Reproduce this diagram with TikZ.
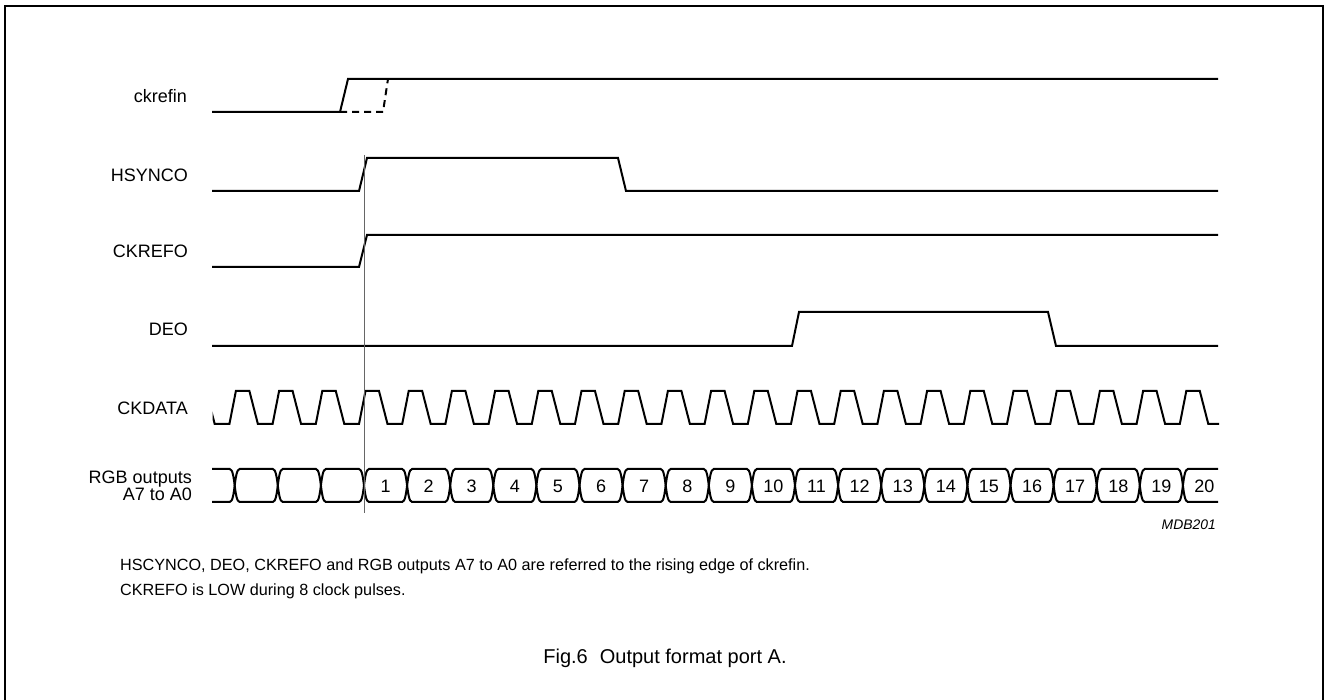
\documentclass[tikz,border=0pt]{standalone}
\usepackage{fontspec}
\setmainfont{Liberation Sans}
\begin{document}
\begin{tikzpicture}[x=1pt,y=-1pt,
  sig/.style={line width=2pt, line join=miter, line cap=butt},
  lbl/.style={anchor=east, inner sep=0pt, font=\fontsize{18}{17}\selectfont},
  num/.style={inner sep=0pt, font=\fontsize{18}{20}\selectfont},
  note/.style={anchor=west, inner sep=0pt, font=\fontsize{16.2}{18}\selectfont}]
\useasboundingbox (0,0) rectangle (1326,700);
\draw[line width=1.6pt] (5,6) rectangle (1323,703);

% labels
\node[lbl] (lckrefin) at (187,96) {ckrefin};
\node[lbl] (lhsynco) at (188,175) {HSYNCO};
\node[lbl] (lckrefo) at (188,251) {CKREFO};
\node[lbl] (ldeo) at (188,329) {DEO};
\node[lbl] (lckdata) at (188,408) {CKDATA};
\node[lbl, align=right] (lrgb) at (192,485.5) {RGB outputs\\A7 to A0};

% ckrefin
\draw[sig] (212,112) -- (340,112) -- (348,79) -- (1218,79);
\draw[sig, dash pattern=on 7pt off 5pt] (340,112) -- (383,112) -- (388,79);
% HSYNCO
\draw[sig] (212,191) -- (359,191) -- (367,158) -- (618,158) -- (626,191) -- (1218,191);
% CKREFO
\draw[sig] (212,267) -- (359,267) -- (367,235) -- (1218,235);
% DEO
\draw[sig] (212,346) -- (792,346) -- (799,312) -- (1048,312) -- (1056,346) -- (1218,346);
% CKDATA
\begin{scope}
\clip (212.5,370) rectangle (1219,440);
\draw[sig] (150,424)
  \foreach \k [evaluate=\k as \c using 364+43.2*\k] in {-5,...,20} {
    -- (\c-5,424) -- (\c+1.5,391) -- (\c+15,391) -- (\c+23.5,424) };
\end{scope}
% RGB outputs
\draw[sig] (212,469)
  \foreach \k [evaluate=\k as \c using 364+43.1*\k] in {-3,...,19} {
    -- (\c-5,469) .. controls (\c-2,469) and (\c-1,478) .. (\c,485.5)
       .. controls (\c+1,478) and (\c+2,469) .. (\c+5,469) }
  -- (1218,469);
\draw[sig] (212,502)
  \foreach \k [evaluate=\k as \c using 364+43.1*\k] in {-3,...,19} {
    -- (\c-5,502) .. controls (\c-2,502) and (\c-1,493) .. (\c,485.5)
       .. controls (\c+1,493) and (\c+2,502) .. (\c+5,502) }
  -- (1218,502);
\foreach \k [evaluate=\k as \c using 364+43.1*\k+21.55, count=\n] in {0,...,19} {
  \node[num] (d\n) at (\c,486) {\n};
}
% reference line
\draw[line width=0.8pt, black!60] (364,155) -- (364,513);

\node[anchor=east, inner sep=0pt, font=\fontsize{13.9}{15}\itshape] (code) at (1216,525) {MDB201};

\node[note] (n1) at (120,566) {HSCYNCO, DEO, CKREFO and RGB outputs A7 to A0 are referred to the rising edge of ckrefin.};
\node[note] (n2) at (120,591) {CKREFO is LOW during 8 clock pulses.};
\node[inner sep=0pt, font=\fontsize{20}{22}\selectfont] (cap) at (665,658) {Fig.6\hspace{0.6em}Output format port A.};
\end{tikzpicture}
\end{document}
